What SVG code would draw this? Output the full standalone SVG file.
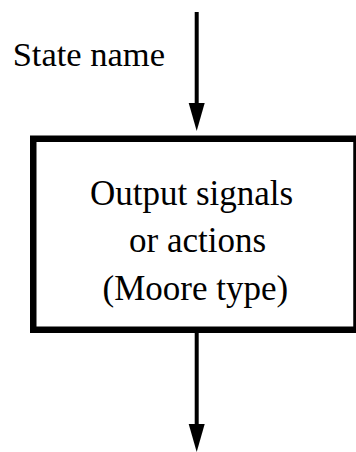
<svg xmlns="http://www.w3.org/2000/svg" width="356" height="452" viewBox="0 0 356 452">
  <style>
    .lbl { font-family: "Liberation Serif", "Times New Roman", serif; fill: #000; }
    .box { fill: #fff; stroke: #000; stroke-width: 6.5; }
    .wire { stroke: #000; stroke-width: 4; fill: none; }
  </style>
  <defs>
    <marker id="head" markerUnits="userSpaceOnUse" viewBox="0 -9 30 18" refX="0" refY="0" markerWidth="30" markerHeight="18" orient="auto">
      <path d="M0,-8 L28,0 L0,8 Z" fill="#000"/>
    </marker>
  </defs>
  <rect width="356" height="452" fill="#fff"/>

  <g id="connectors">
    <line class="wire" x1="196.7" y1="12" x2="196.7" y2="103" marker-end="url(#head)"/>
    <line class="wire" x1="196.7" y1="333" x2="196.7" y2="424" marker-end="url(#head)"/>
  </g>

  <g id="state-label">
    <text class="lbl" x="12.7" y="66" font-size="34.5">State name</text>
  </g>

  <g id="state-box">
    <rect class="box" x="33.25" y="138.75" width="323.25" height="191"/>
    <text class="lbl" font-size="35" x="90" y="205">Output signals</text>
    <text class="lbl" font-size="35" x="129" y="252">or actions</text>
    <text class="lbl" font-size="35" x="102.5" y="300">(Moore type)</text>
  </g>
</svg>
